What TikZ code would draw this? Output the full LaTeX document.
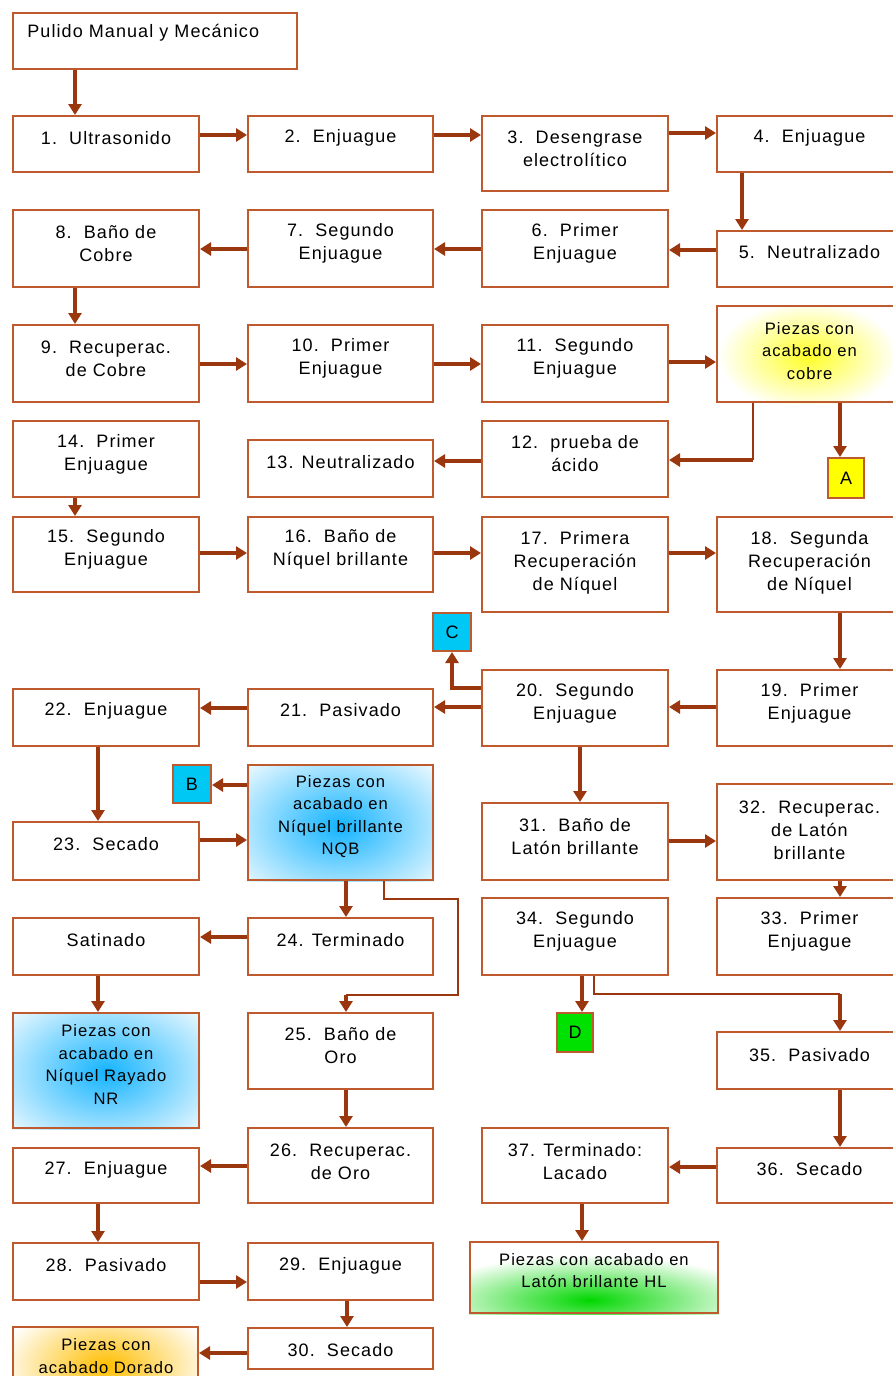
\documentclass[tikz,border=0pt]{standalone}
\usepackage{fontspec}
\newfontfamily\lbfont{Liberation Sans}[LetterSpace=6]
\usetikzlibrary{arrows.meta,fit,backgrounds}

\definecolor{bord}{RGB}{190,90,45}
\definecolor{arr}{RGB}{155,55,15}
\definecolor{gblue}{RGB}{20,180,255}
\definecolor{gyel}{RGB}{255,255,0}
\definecolor{ggreen}{RGB}{0,215,0}
\definecolor{gorange}{RGB}{255,190,0}
\definecolor{tagblue}{RGB}{0,200,245}
\definecolor{taggreen}{RGB}{0,225,0}

\tikzset{
  box/.style={draw=bord, line width=1pt, inner sep=0pt},
  lbl/.style={font=\lbfont\fontsize{9pt}{11.5pt}\selectfont, align=center, text=black, inner sep=0pt},
  glbl/.style={font=\lbfont\fontsize{8.3pt}{11.2pt}\selectfont, align=center, text=black, inner sep=0pt},
  flow/.style={draw=arr, line width=1.7pt, -{Triangle[length=5.5pt,width=6.5pt]}},
  thinflow/.style={draw=arr, line width=0.8pt},
}

% box: name, x1, y1, x2, y2, upward text shift, text
\newcommand\bx[7]{%
  \node[box, fit={(#2,#3) (#4,#5)}] (#1) {};
  \path (#1.center) ++(0,{-(#6)}) node[lbl] (#1-t) {#7};}
% result box with glowing fill: same, in a smaller face
\newcommand\gbx[7]{%
  \node[box, fit={(#2,#3) (#4,#5)}] (#1) {};
  \path (#1.center) ++(0,{-(#6)}) node[glbl] (#1-t) {#7};}
% soft glow inside a box: name, colour, centre x, centre y, radius x, radius y
\newcommand\glow[6]{%
  \begin{pgfonlayer}{background}
    \begin{scope}
      \clip (#1.north west) rectangle (#1.south east);
      \shade[inner color=#2, outer color=white] (#3,#4) ellipse [x radius=#5, y radius=#6];
    \end{scope}
  \end{pgfonlayer}}

\begin{document}
\begin{tikzpicture}[x=0.5pt,y=-0.5pt]
\useasboundingbox (0,0) rectangle (893,1376);
\begin{pgfonlayer}{background}
  \fill[white] (0,0) rectangle (893,1376);
\end{pgfonlayer}

% start
\node[box, fit={(13,13) (297,69)}] (top) {};
\node[lbl, anchor=west] (top-t) at (27,33) {Pulido Manual y Mecánico};

% copper line
\bx{n1}{13}{116}{199}{172}{6}{1.~~Ultrasonido}
\bx{n2}{248}{116}{433}{172}{6}{2.~~Enjuague}
\bx{n3}{482}{116}{668}{191}{5}{3.~~Desengrase\\electrolítico}
\bx{n4}{717}{116}{902}{172}{6}{4.~~Enjuague}
\bx{n5}{717}{231}{902}{287}{7}{5.~~Neutralizado}
\bx{n6}{482}{210}{668}{287}{5}{6.~~Primer\\Enjuague}
\bx{n7}{248}{210}{433}{287}{5}{7.~~Segundo\\Enjuague}
\bx{n8}{13}{210}{199}{287}{5}{8.~~Baño de\\Cobre}
\bx{n9}{13}{325}{199}{402}{5}{9.~~Recuperac.\\de Cobre}
\bx{n10}{248}{325}{433}{402}{5}{10.~~Primer\\Enjuague}
\bx{n11}{482}{325}{668}{402}{5}{11.~~Segundo\\Enjuague}
\gbx{cob}{717}{306}{902}{402}{3}{Piezas con\\acabado en\\cobre}
\glow{cob}{gyel!85}{808}{356}{90}{55}
\bx{n14}{13}{421}{199}{497}{5}{14.~~Primer\\Enjuague}
\bx{n13}{248}{440}{433}{497}{6}{13. Neutralizado}
\bx{n12}{482}{421}{668}{497}{5}{12.~~prueba de\\ácido}
\node[box, fill=gyel, fit={(828,458) (864,498)}] (A) {};
\node[lbl] (A-t) at (A.center) {A};

% nickel line
\bx{n15}{13}{517}{199}{592}{5}{15.~~Segundo\\Enjuague}
\bx{n16}{248}{517}{433}{592}{5}{16.~~Baño de\\Níquel brillante}
\bx{n17}{482}{517}{668}{612}{2}{17.~~Primera\\Recuperación\\de Níquel}
\bx{n18}{717}{517}{902}{612}{2}{18.~~Segunda\\Recuperación\\de Níquel}
\node[box, fill=tagblue, fit={(433,613) (471,651)}] (C) {};
\node[lbl] (C-t) at (C.center) {C};
\bx{n22}{13}{689}{199}{746}{7}{22.~~Enjuague}
\bx{n21}{248}{689}{433}{746}{7}{21.~~Pasivado}
\bx{n20}{482}{670}{668}{746}{5}{20.~~Segundo\\Enjuague}
\bx{n19}{717}{670}{902}{746}{5}{19.~~Primer\\Enjuague}
\node[box, fill=tagblue, fit={(173,765) (211,803)}] (B) {};
\node[lbl] (B-t) at (B.center) {B};
\gbx{nqb}{248}{765}{433}{880}{6}{Piezas con\\acabado en\\Níquel brillante\\NQB}
\glow{nqb}{gblue}{340}{826}{140}{95}
\bx{n23}{13}{822}{199}{880}{7}{23.~~Secado}
\bx{sat}{13}{918}{199}{975}{6}{Satinado}
\bx{n24}{248}{918}{433}{975}{6}{24. Terminado}
\gbx{nr}{13}{1013}{199}{1128}{6}{Piezas con\\acabado en\\Níquel Rayado\\NR}
\glow{nr}{gblue}{106}{1072}{140}{95}

% brass line
\bx{n31}{482}{803}{668}{880}{5}{31.~~Baño de\\Latón brillante}
\bx{n32}{717}{784}{902}{880}{2}{32.~~Recuperac.\\de Latón\\brillante}
\bx{n33}{717}{898}{902}{975}{5}{33.~~Primer\\Enjuague}
\bx{n34}{482}{898}{668}{975}{5}{34.~~Segundo\\Enjuague}
\node[box, fill=taggreen, fit={(557,1013) (593,1052)}] (D) {};
\node[lbl] (D-t) at (D.center) {D};
\bx{n35}{717}{1032}{902}{1089}{5}{35.~~Pasivado}
\bx{n36}{717}{1148}{902}{1203}{6}{36.~~Secado}
\bx{n37}{482}{1128}{668}{1203}{4}{37. Terminado:\\Lacado}
\gbx{hl}{470}{1242}{718}{1313}{7}{Piezas con acabado en\\Latón brillante HL}
\glow{hl}{ggreen}{590}{1300}{170}{45}

% gold line
\bx{n25}{248}{1013}{433}{1089}{5}{25.~~Baño de\\Oro}
\bx{n26}{248}{1128}{433}{1203}{4}{26.~~Recuperac.\\de Oro}
\bx{n27}{13}{1148}{199}{1203}{6}{27.~~Enjuague}
\bx{n28}{13}{1243}{199}{1300}{6}{28.~~Pasivado}
\bx{n29}{248}{1243}{433}{1300}{6}{29.~~Enjuague}
\bx{n30}{248}{1328}{433}{1369}{-2}{30.~~Secado}
\node[box, fit={(13,1327) (198,1392)}] (dor) {};
\node[glbl] (dor-t) at (106,1356) {Piezas con\\acabado Dorado};
\glow{dor}{gorange}{106}{1366}{110}{65}

% vertical connectors
\draw[flow] (top.south -| 75,0) -- (n1.north -| 75,0);
\draw[flow] (n4.south -| 742,0) -- (n5.north -| 742,0);
\draw[flow] (n8.south -| 75,0) -- (n9.north -| 75,0);
\draw[flow] (cob.south -| 840,0) -- (A.north -| 840,0);
\draw[flow] (n14.south -| 75,0) -- (n15.north -| 75,0);
\draw[flow] (n18.south -| 840,0) -- (n19.north -| 840,0);
\draw[flow] (n22.south -| 98,0) -- (n23.north -| 98,0);
\draw[flow] (n20.south -| 580,0) -- (n31.north -| 580,0);
\draw[flow] (nqb.south -| 346,0) -- (n24.north -| 346,0);
\draw[flow] (n32.south -| 840,0) -- (n33.north -| 840,0);
\draw[flow] (sat.south -| 98,0) -- (nr.north -| 98,0);
\draw[flow] (n34.south -| 582,0) -- (D.north -| 582,0);
\draw[flow] (n35.south -| 840,0) -- (n36.north -| 840,0);
\draw[flow] (n37.south -| 582,0) -- (hl.north -| 582,0);
\draw[flow] (n25.south -| 346,0) -- (n26.north -| 346,0);
\draw[flow] (n27.south -| 98,0) -- (n28.north -| 98,0);
\draw[flow] (n29.south -| 347,0) -- (n30.north -| 347,0);

% horizontal connectors
\draw[flow] (n1.east |- 0,135) -- (n2.west |- 0,135);
\draw[flow] (n2.east |- 0,135) -- (n3.west |- 0,135);
\draw[flow] (n3.east |- 0,133) -- (n4.west |- 0,133);
\draw[flow] (n5.west |- 0,250) -- (n6.east |- 0,250);
\draw[flow] (n6.west |- 0,249) -- (n7.east |- 0,249);
\draw[flow] (n7.west |- 0,249) -- (n8.east |- 0,249);
\draw[flow] (n9.east |- 0,364) -- (n10.west |- 0,364);
\draw[flow] (n10.east |- 0,364) -- (n11.west |- 0,364);
\draw[flow] (n11.east |- 0,362) -- (cob.west |- 0,362);
\draw[flow] (n12.west |- 0,461) -- (n13.east |- 0,461);
\draw[flow] (n15.east |- 0,553) -- (n16.west |- 0,553);
\draw[flow] (n16.east |- 0,553) -- (n17.west |- 0,553);
\draw[flow] (n17.east |- 0,553) -- (n18.west |- 0,553);
\draw[flow] (n19.west |- 0,707) -- (n20.east |- 0,707);
\draw[flow] (n20.west |- 0,707) -- (n21.east |- 0,707);
\draw[flow] (n21.west |- 0,708) -- (n22.east |- 0,708);
\draw[flow] (nqb.west |- 0,785) -- (B.east |- 0,785);
\draw[flow] (n23.east |- 0,840) -- (nqb.west |- 0,840);
\draw[flow] (n31.east |- 0,841) -- (n32.west |- 0,841);
\draw[flow] (n24.west |- 0,937) -- (sat.east |- 0,937);
\draw[flow] (n36.west |- 0,1167) -- (n37.east |- 0,1167);
\draw[flow] (n26.west |- 0,1166) -- (n27.east |- 0,1166);
\draw[flow] (n28.east |- 0,1282) -- (n29.west |- 0,1282);
\draw[flow] (n30.west |- 0,1353) -- (dor.east |- 0,1353);

% elbow connectors
\coordinate (k1) at (753,460);
\draw[thinflow] (cob.south -| k1) -- (k1);
\draw[flow] (k1) -- (n12.east |- k1);
\draw[flow] (n20.west |- 0,688) -| (C.south);
\coordinate (k2) at (346,995);
\draw[thinflow] (nqb.south -| 384,0) |- (458,899) |- (k2);
\draw[flow] (k2) -- (n25.north -| k2);
\coordinate (k3) at (840,994);
\draw[thinflow] (n34.south -| 594,0) |- (k3);
\draw[flow] (k3) -- (n35.north -| k3);
\end{tikzpicture}
\end{document}
